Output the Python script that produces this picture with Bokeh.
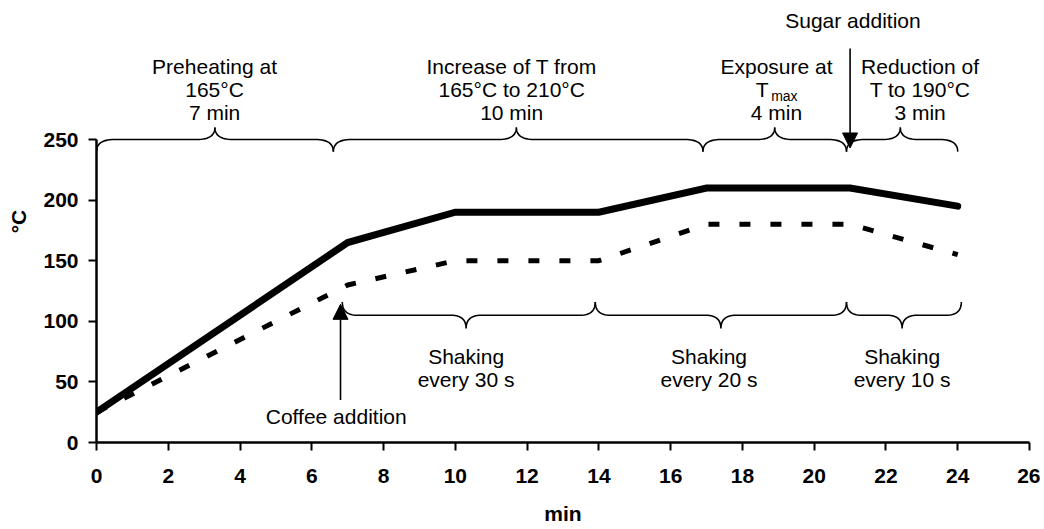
import numpy as np
from bokeh.plotting import figure
from bokeh.models import Range1d, FixedTicker, ColumnDataSource, Arrow, NormalHead
from bokeh.core.properties import value
from bokeh.embed import file_html
from bokeh.resources import INLINE

# ---- data ----
time_min = [0, 7, 10, 14, 17, 21, 24]
temp_oven = [25, 165, 190, 190, 210, 210, 195]
temp_coffee = [25, 130, 150, 150, 180, 180, 155]

x_ticks = list(range(0, 27, 2))
y_ticks = [0, 50, 100, 150, 200, 250]

# top phase braces (start, end, tip) in minutes, at 250 degC
top_start = [0, 6.6, 16.9, 20.9]
top_end = [6.6, 16.9, 20.9, 24.0]
top_tip = [3.3, 11.7, 18.9, 22.4]
top_level = 250

# bottom shaking braces
bot_start = [6.85, 13.9, 20.9]
bot_end = [13.9, 20.9, 24.1]
bot_tip = [10.3, 17.4, 22.45]
bot_level = 105

top_label_x = [3.29, 11.57, 18.95, 22.95]
top_label_lines = [["Preheating at", "165°C", "7 min"],
                   ["Increase of T from", "165°C to 210°C", "10 min"],
                   ["Exposure at", "", "4 min"],
                   ["Reduction of", "T to 190°C", "3 min"]]
top_label_y = 310

bot_label_x = [10.3, 17.07, 22.45]
bot_label_lines = [["Shaking", "every 30 s"],
                   ["Shaking", "every 20 s"],
                   ["Shaking", "every 10 s"]]
bot_label_y = 70.8

# event arrows
event_names = ["Sugar addition", "Coffee addition"]
event_x = [21.0, 6.8]
event_y_start = [325, 35]
event_y_end = [243, 114]
event_label_y = [348.5, 21.4]
event_label_x = [21.08, 6.68]

FONT = "Liberation Sans"
FS = "21px"

p = figure(width=1040, height=527, x_range=Range1d(0, 26), y_range=Range1d(0, 364.7),
           output_backend="svg", toolbar_location=None,
           min_border_left=96, min_border_right=11, min_border_top=0, min_border_bottom=84)
p.outline_line_color = None
p.xgrid.visible = False
p.ygrid.visible = False
p.background_fill_color = "white"

for ax in (p.xaxis, p.yaxis):
    ax.axis_line_width = 2.5
    ax.axis_line_color = "black"
    ax.major_tick_line_width = 2
    ax.major_tick_line_color = "black"
    ax.major_tick_out = 8
    ax.major_tick_in = 0
    ax.minor_tick_line_color = None
    ax.major_label_text_font = FONT
    ax.major_label_text_font_size = FS
    ax.major_label_text_font_style = "bold"
    ax.major_label_text_color = "black"
    ax.axis_label_text_font = FONT
    ax.axis_label_text_font_size = FS
    ax.axis_label_text_font_style = "bold"
    ax.axis_label_text_color = "black"

p.xaxis.ticker = FixedTicker(ticks=x_ticks)
p.yaxis.ticker = FixedTicker(ticks=y_ticks)
p.yaxis.bounds = (0, 250)
p.xaxis.axis_label = "min"
p.yaxis.axis_label = "°C"
p.xaxis.major_label_standoff = 18
p.xaxis.axis_label_standoff = 16
p.yaxis.major_label_standoff = 10
p.yaxis.axis_label_standoff = 10

# lines
p.line(time_min, temp_oven, line_width=7, line_color="black", line_join="miter", line_cap="round")
p.line(time_min, temp_coffee, line_width=5, line_color="black", line_dash="11 20")


def brace(x0, x1, xm, y, d, r, s, n=16):
    t = np.linspace(0, 1, n)

    def quad(p0, c, p1):
        return ((1 - t) ** 2 * p0[0] + 2 * (1 - t) * t * c[0] + t ** 2 * p1[0],
                (1 - t) ** 2 * p0[1] + 2 * (1 - t) * t * c[1] + t ** 2 * p1[1])

    segs = [quad((x0, y - s * d), (x0, y), (x0 + r, y)),
            quad((xm - r, y), (xm, y), (xm, y + s * d)),
            quad((xm, y + s * d), (xm, y), (xm + r, y)),
            quad((x1 - r, y), (x1, y), (x1, y - s * d))]
    xs = np.concatenate([s_[0] for s_ in segs])
    ys = np.concatenate([s_[1] for s_ in segs])
    return list(xs), list(ys)


bx, by = [], []
for a, b, m in zip(top_start, top_end, top_tip):
    xs, ys = brace(a, b, m, top_level, 10, 0.5, 1)
    bx.append(xs); by.append(ys)
for a, b, m in zip(bot_start, bot_end, bot_tip):
    xs, ys = brace(a, b, m, bot_level, 11, 0.42, -1)
    bx.append(xs); by.append(ys)
p.multi_line(bx, by, line_color="black", line_width=1.6)

# labels
tx, ty, tt, to = [], [], [], []
for x, lines in zip(top_label_x, top_label_lines):
    for i, s in enumerate(lines):
        tx.append(x); ty.append(top_label_y); tt.append(s); to.append(23 * i)
for x, lines in zip(bot_label_x, bot_label_lines):
    for i, s in enumerate(lines):
        tx.append(x); ty.append(bot_label_y); tt.append(s); to.append(23 * i)
for x, y, s in zip(event_label_x, event_label_y, event_names):
    tx.append(x); ty.append(y); tt.append(s); to.append(0)
src = ColumnDataSource(dict(x=tx, y=ty, text=tt, yo=to))
p.text(x="x", y="y", text="text", y_offset="yo", source=src, text_align="center",
       text_baseline="middle", text_font=value(FONT), text_font_size=FS, text_color="black")

# T_max with subscript
p.text(x=[18.55], y=[top_label_y], text=["T"], y_offset=[23], text_align="center",
       text_baseline="middle", text_font=value(FONT), text_font_size=FS, text_color="black")
p.text(x=[18.80], y=[top_label_y], text=["max"], y_offset=[29], text_align="left",
       text_baseline="middle", text_font=value(FONT), text_font_size="14px", text_color="black")

for x, y0, y1 in zip(event_x, event_y_start, event_y_end):
    p.add_layout(Arrow(x_start=x, y_start=y0, x_end=x, y_end=y1, line_width=1.6, line_color="black",
                       end=NormalHead(size=15, fill_color="black", line_color="black")))

open("out.html", "w").write(file_html(p, INLINE))
